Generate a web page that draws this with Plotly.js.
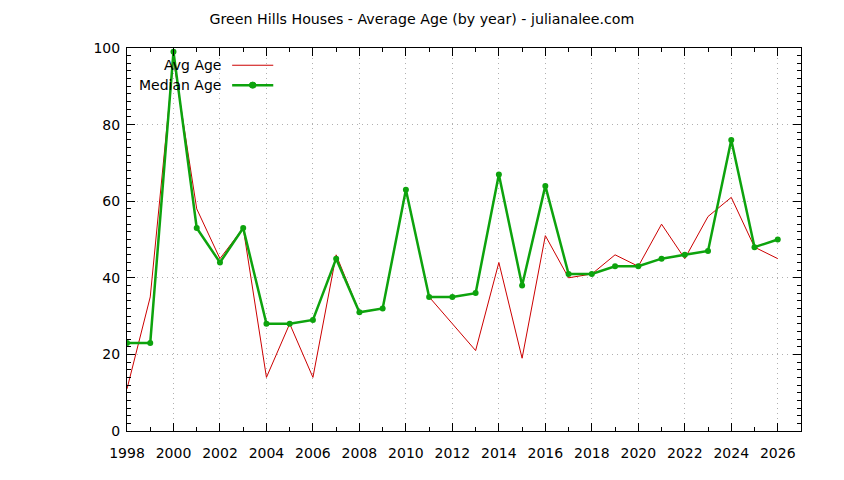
<!DOCTYPE html>
<html>
<head>
<meta charset="utf-8">
<script src="https://cdn.plot.ly/plotly-3.0.1.min.js"></script>
<style>
  html, body { margin: 0; padding: 0; background: #fff; }
  #myPlot { width: 844px; height: 480px; }
</style>
</head>
<body>
<div id="myPlot"></div>
<script>
// years on the x axis
const years = [1998, 1999, 2000, 2001, 2002, 2003, 2004, 2005, 2006, 2007,
               2008, 2009, 2010, 2011, 2012, 2013, 2014, 2015, 2016, 2017,
               2018, 2019, 2020, 2021, 2022, 2023, 2024, 2025, 2026];

// average house age per year
const avgAge = [11, 35, 97, 58, 45, 53, 14, 28, 14, 46,
                31, 32, 63, 35, 28, 21, 44, 19, 51, 40,
                41, 46, 43, 54, 45, 56, 61, 48, 45];

// median house age per year
const medianAge = [23, 23, 99, 53, 44, 53, 28, 28, 29, 45,
                   31, 32, 63, 35, 35, 36, 67, 38, 64, 41,
                   41, 43, 43, 45, 46, 47, 76, 48, 50];

const avgName = 'Avg Age';
const medianName = 'Median Age';
const red = '#cc0000';
const green = '#0da30d';
const font = 'DejaVu Sans, Verdana, sans-serif';

const data = [
  { x: years, y: avgAge, name: avgName, type: 'scatter', mode: 'lines',
    line: {color: red, width: 1}, showlegend: false },
  { x: years, y: medianAge, name: medianName, type: 'scatter', mode: 'lines+markers',
    line: {color: green, width: 2.5},
    marker: {color: green, size: 6, symbol: 'circle'}, showlegend: false }
];

const axisCommon = {
  showline: true, linecolor: '#000', linewidth: 1, mirror: 'allticks',
  ticks: 'inside', ticklen: 8, tickcolor: '#000', tickwidth: 1,
  showgrid: true, gridcolor: '#b0b0b0', griddash: '1px,4px', gridwidth: 1,
  zeroline: false,
  tickfont: {family: font, size: 14, color: '#000'}
};

const layout = {
  width: 844, height: 480,
  margin: {l: 127, r: 43, t: 48, b: 49},
  paper_bgcolor: '#fff', plot_bgcolor: '#fff',
  title: {text: 'Green Hills Houses - Average Age (by year) - julianalee.com',
          font: {family: font, size: 14.2, color: '#000'},
          x: 0.5, xref: 'container', y: 0.96, yanchor: 'middle'},
  xaxis: Object.assign({}, axisCommon, {
    range: [1998, 2027], tick0: 1998, dtick: 2, ticklabelstandoff: 9,
    minor: {dtick: 1, ticks: 'inside', ticklen: 4, tickcolor: '#000', showgrid: false}
  }),
  yaxis: Object.assign({}, axisCommon, {
    range: [0, 100], tick0: 0, dtick: 20, ticklabelstandoff: 3,
    minor: {dtick: 2, ticks: 'inside', ticklen: 4, tickcolor: '#000', showgrid: false}
  }),
  // gnuplot-style legend: text right-aligned, sample to the right
  annotations: [
    {xref: 'paper', yref: 'paper', x: 0.142, y: 0.955, xanchor: 'right', yanchor: 'middle',
     text: avgName, showarrow: false, font: {family: font, size: 14, color: '#000'}},
    {xref: 'paper', yref: 'paper', x: 0.142, y: 0.903, xanchor: 'right', yanchor: 'middle',
     text: medianName, showarrow: false, font: {family: font, size: 14, color: '#000'}}
  ],
  shapes: [
    {type: 'line', xref: 'paper', yref: 'paper', x0: 0.156, x1: 0.217, y0: 0.955, y1: 0.955,
     line: {color: red, width: 1}},
    {type: 'line', xref: 'paper', yref: 'paper', x0: 0.156, x1: 0.217, y0: 0.903, y1: 0.903,
     line: {color: green, width: 2.5}},
    {type: 'circle', xref: 'paper', yref: 'paper', x0: 0.1815, x1: 0.1915, y0: 0.895, y1: 0.911,
     fillcolor: green, line: {color: green, width: 1}}
  ]
};

Plotly.newPlot('myPlot', data, layout, {displayModeBar: false, staticPlot: true});
</script>
</body>
</html>
